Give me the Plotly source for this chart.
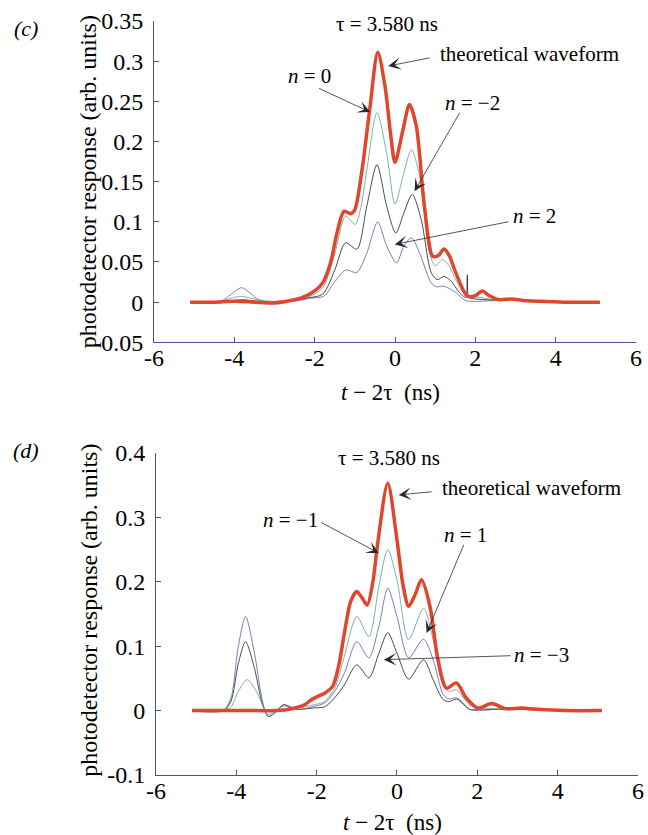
import plotly.graph_objects as go

# ---------------- data: panel (c) ----------------
xc_theory = [-5.1, -4.5, -4.0, -3.5, -3.0, -2.6, -2.3, -2.0, -1.8, -1.6, -1.45, -1.27, -1.1, -1.0, -0.82, -0.62,
             -0.43, -0.25, -0.1, 0.0, 0.2, 0.36, 0.53, 0.73, 0.94, 1.08, 1.22, 1.35, 1.51, 1.8, 2.0, 2.17, 2.35,
             2.6, 2.9, 3.2, 3.6, 4.2, 5.1]
yc_theory = [0, 0, 0.001, 0.0, -0.001, 0.002, 0.006, 0.014, 0.024, 0.05, 0.085, 0.113, 0.110, 0.115, 0.165, 0.244,
             0.311, 0.269, 0.205, 0.174, 0.215, 0.246, 0.219, 0.12, 0.057, 0.058, 0.066, 0.058, 0.037, 0.0075, 0.008,
             0.014, 0.008, 0.003, 0.004, 0.002, 0.001, 0.0, 0.0]

xc_n0 = [-5.1, -4.5, -4.2, -4.0, -3.8, -3.6, -3.3, -3.0, -2.5, -2.2, -2.0, -1.77, -1.5, -1.23, -0.99, -0.85, -0.7,
         -0.45, -0.21, 0.0, 0.2, 0.41, 0.61, 0.86, 1.0, 1.18, 1.35, 1.51, 1.8, 2.1, 2.5, 3.0, 3.5, 4.2, 5.1]
yc_n0 = [0.0, 0.0, 0.003, 0.006, 0.007, 0.005, 0.002, 0.001, 0.002, 0.006, 0.01, 0.02, 0.06, 0.107, 0.097, 0.118,
         0.165, 0.236, 0.186, 0.122, 0.157, 0.19, 0.157, 0.0615, 0.045, 0.053, 0.045, 0.028, 0.0075, 0.006, 0.003,
         0.004, 0.001, 0.0, 0.0]

xc_nm2 = [-5.1, -4.5, -4.2, -3.8, -3.4, -3.0, -2.5, -2.2, -1.8, -1.5, -1.23, -0.95, -0.7, -0.45, -0.21, 0.02, 0.22,
          0.43, 0.65, 0.9, 1.05, 1.22, 1.4, 1.6, 1.76, 1.8, 1.84, 2.0, 2.3, 2.7, 3.0, 3.5, 4.2, 5.1]
yc_nm2 = [0, 0, 0.001, 0.003, 0.001, 0.0, 0.002, 0.005, 0.01, 0.04, 0.074, 0.066, 0.12, 0.171, 0.12, 0.086, 0.111,
          0.134, 0.103, 0.037, 0.028, 0.032, 0.026, 0.012, 0.006, 0.034, 0.006, 0.004, 0.003, 0.003, 0.004, 0.001,
          0.0, 0.0]

xc_n2 = [-5.1, -4.6, -4.3, -4.1, -3.82, -3.6, -3.4, -3.1, -2.8, -2.4, -2.09, -1.77, -1.52, -1.23, -0.95, -0.7, -0.43,
         -0.21, 0.04, 0.22, 0.41, 0.61, 0.9, 1.05, 1.18, 1.35, 1.51, 1.76, 2.0, 2.5, 3.0, 3.5, 4.2, 5.1]
yc_n2 = [0, 0, 0.002, 0.009, 0.018, 0.011, 0.003, 0.0, 0.0, 0.002, 0.005, 0.0075, 0.024, 0.04, 0.037, 0.0615, 0.1,
         0.07, 0.049, 0.07, 0.08, 0.0615, 0.024, 0.019, 0.02, 0.017, 0.012, 0.002, 0.001, 0.002, 0.003, 0.001, 0.0, 0.0]

# ---------------- data: panel (d) ----------------
xd_theory = [-5.1, -4.5, -4.0, -3.5, -3.0, -2.62, -2.3, -2.13, -1.97, -1.8, -1.6, -1.45, -1.31, -1.15, -1.0, -0.87,
             -0.74, -0.6, -0.49, -0.23, 0.0, 0.15, 0.29, 0.45, 0.61, 0.82, 1.02, 1.23, 1.48, 1.72, 2.01, 2.36, 2.7,
             3.1, 3.5, 4.2, 5.1]
yd_theory = [0, 0, 0, 0, 0, 0.003, 0.009, 0.017, 0.022, 0.027, 0.038, 0.07, 0.12, 0.17, 0.185, 0.175, 0.164, 0.2,
             0.255, 0.353, 0.265, 0.195, 0.162, 0.18, 0.203, 0.162, 0.079, 0.035, 0.043, 0.02, 0.004, 0.011, 0.003,
             0.004, 0.002, 0.0, 0.0]

xd_nm1 = [-5.1, -4.5, -4.3, -4.13, -3.95, -3.73, -3.5, -3.33, -3.22, -3.0, -2.83, -2.6, -2.3, -2.0, -1.8, -1.55,
          -1.31, -1.0, -0.7, -0.45, -0.23, 0.0, 0.29, 0.66, 0.9, 1.15, 1.3, 1.48, 1.65, 1.8, 2.1, 2.5, 3.0, 3.5, 4.2, 5.1]
yd_nm1 = [0, 0, 0.0, 0.006, 0.03, 0.048, 0.03, 0.006, -0.006, 0.0, 0.007, 0.004, 0.006, 0.01, 0.014, 0.035, 0.084,
          0.146, 0.115, 0.193, 0.25, 0.203, 0.11, 0.159, 0.11, 0.038, 0.03, 0.0325, 0.02, 0.009, 0.004, 0.003, 0.003,
          0.001, 0.0, 0.0]

xd_n1 = [-5.1, -4.5, -4.3, -4.13, -3.95, -3.77, -3.55, -3.35, -3.21, -3.0, -2.83, -2.46, -2.1, -1.8, -1.55, -1.31,
         -1.0, -0.7, -0.45, -0.23, 0.0, 0.29, 0.66, 0.9, 1.15, 1.3, 1.48, 1.65, 1.8, 2.1, 2.5, 3.0, 3.5, 4.2, 5.1]
yd_n1 = [0, -0.001, 0.002, 0.02, 0.1, 0.146, 0.09, 0.015, -0.009, -0.002, 0.009, 0.002, 0.006, 0.012, 0.03, 0.058,
         0.107, 0.082, 0.131, 0.19, 0.146, 0.082, 0.111, 0.079, 0.025, 0.018, 0.02, 0.012, 0.002, 0.001, 0.002, 0.002,
         0.001, 0.0, 0.0]

xd_nm3 = [-5.1, -4.5, -4.3, -4.13, -3.95, -3.77, -3.55, -3.35, -3.2, -3.0, -2.83, -2.5, -2.1, -1.8, -1.55, -1.31,
          -1.0, -0.7, -0.45, -0.23, 0.0, 0.29, 0.66, 0.9, 1.15, 1.3, 1.48, 1.65, 1.8, 2.1, 2.5, 3.0, 3.5, 4.2, 5.1]
yd_nm3 = [-0.001, -0.002, 0.0, 0.015, 0.073, 0.107, 0.066, 0.01, -0.009, -0.001, 0.009, 0.002, 0.004, 0.006, 0.02,
          0.04, 0.071, 0.051, 0.089, 0.121, 0.089, 0.049, 0.079, 0.048, 0.017, 0.014, 0.018, 0.01, 0.002, 0.001,
          0.002, 0.002, 0.001, 0.0, 0.0]

# ---------------- ticks ----------------
x_tickvals = [-6, -4, -2, 0, 2, 4, 6]
x_ticktext = ["-6", "-4", "-2", "0", "2", "4", "6"]
yc_tickvals = [-0.05, 0, 0.05, 0.1, 0.15, 0.2, 0.25, 0.3, 0.35]
yc_ticktext = ["-0.05", "0", "0.05", "0.1", "0.15", "0.2", "0.25", "0.3", "0.35"]
yd_tickvals = [-0.1, 0, 0.1, 0.2, 0.3, 0.4]
yd_ticktext = ["-0.1", "0", "0.1", "0.2", "0.3", "0.4"]

# ---------------- style ----------------
W, H = 648, 835
ML, MR, MT, MB = 154, 4, 21, 60
FONT = "Liberation Serif"
RED = "#e0462b"
TEAL = "#5e9c8c"
BLACK = "#1e1e1e"
BLUE = "#5a5aae"
AXC = "#4e4ea0"


def px(X):
    return (X - ML) / (W - ML - MR)


def py(Y):
    return (H - MB - Y) / (H - MT - MB)


fig = go.Figure()


def add(x, y, color, width, xa, ya):
    fig.add_trace(go.Scatter(x=x, y=y, mode="lines", line=dict(color=color, width=width, shape="spline",
                                                                    smoothing=0.8),
                             xaxis=xa, yaxis=ya, showlegend=False, hoverinfo="skip"))


add(xc_n2, yc_n2, BLUE, 0.8, "x", "y")
add(xc_nm2, yc_nm2, BLACK, 0.8, "x", "y")
add(xc_n0, yc_n0, TEAL, 0.8, "x", "y")
add(xc_theory, yc_theory, RED, 3.5, "x", "y")

add(xd_nm3, yd_nm3, BLACK, 0.8, "x2", "y2")
add(xd_n1, yd_n1, BLUE, 0.8, "x2", "y2")
add(xd_nm1, yd_nm1, TEAL, 0.8, "x2", "y2")
add(xd_theory, yd_theory, RED, 3.5, "x2", "y2")

axis_common = dict(showline=True, linecolor=AXC, linewidth=1, ticks="inside", ticklen=5, tickcolor=AXC,
                   showgrid=False, zeroline=False, mirror=False,
                   tickfont=dict(family=FONT, size=24, color="black"))
xstyle = dict(axis_common, ticklabelstandoff=-6)
ystyle = dict(axis_common, ticklabelstandoff=5)

fig.update_layout(
    width=W, height=H,
    margin=dict(l=ML, r=MR, t=MT, b=MB),
    paper_bgcolor="white", plot_bgcolor="white",
    font=dict(family=FONT),
    xaxis=dict(domain=[0, px(642)], range=[-6, 6], tickvals=x_tickvals, ticktext=x_ticktext, anchor="y",
               **xstyle),
    yaxis=dict(domain=[py(342.3), 1], range=[-0.05, 0.35], tickvals=yc_tickvals, ticktext=yc_ticktext,
               anchor="x", **ystyle),
    xaxis2=dict(domain=[px(156), 1], range=[-6, 6], tickvals=x_tickvals, ticktext=x_ticktext, anchor="y2",
                **xstyle),
    yaxis2=dict(domain=[0, py(453)], range=[-0.1, 0.4], tickvals=yd_tickvals, ticktext=yd_ticktext,
                anchor="x2", **ystyle),
)

ann = []


def text(x, y, s, xref, yref, size=21, angle=0):
    ann.append(dict(x=x, y=y, xref=xref, yref=yref, text=s, showarrow=False, textangle=angle,
                    font=dict(family=FONT, size=size, color="black"), xanchor="center", yanchor="middle"))


def arrow(x, y, ax, ay, xref, yref):
    ann.append(dict(x=x, y=y, ax=ax, ay=ay, xref=xref, yref=yref, axref=xref, ayref=yref, text="",
                    showarrow=True, arrowhead=3, arrowsize=2.6, arrowwidth=0.8, arrowcolor="#2a2a2a"))


# panel (c)
text(-0.21, 0.3458, "τ = 3.580 ns", "x", "y")
text(3.356, 0.3084, "theoretical waveform", "x", "y")
arrow(-0.167, 0.294, 0.897, 0.3044, "x", "y")
text(-2.14, 0.2817, "<i>n</i> = 0", "x", "y")
arrow(-0.62, 0.2366, -1.93, 0.267, "x", "y")
text(1.918, 0.2474, "<i>n</i> = −2", "x", "y")
arrow(0.487, 0.1382, 1.635, 0.2379, "x", "y")
text(3.479, 0.1073, "<i>n</i> = 2", "x", "y")
arrow(-0.005, 0.0719, 2.865, 0.1005, "x", "y")

# panel (d)
text(-0.197, 0.392, "τ = 3.580 ns", "x2", "y2")
text(3.356, 0.3457, "theoretical waveform", "x2", "y2")
arrow(0.042, 0.3349, 0.902, 0.34, "x2", "y2")
text(-2.643, 0.2961, "<i>n</i> = −1", "x2", "y2")
arrow(-0.45, 0.2445, -1.925, 0.2935, "x2", "y2")
text(1.697, 0.2729, "<i>n</i> = 1", "x2", "y2")
arrow(0.738, 0.1205, 1.679, 0.26, "x2", "y2")
text(3.602, 0.0868, "<i>n</i> = −3", "x2", "y2")
arrow(-0.327, 0.0791, 2.869, 0.0853, "x2", "y2")

# panel labels and axis titles
text(px(24), py(28), "<i>(c)</i>", "paper", "paper", size=22)
text(px(24), py(450), "<i>(d)</i>", "paper", "paper", size=22)
text(px(393), py(392), "<i>t</i> − 2τ\u00a0\u00a0(ns)", "paper", "paper", size=23)
text(px(395), py(822), "<i>t</i> − 2τ\u00a0\u00a0(ns)", "paper", "paper", size=23)
text(px(87), py(181.5), "photodetector response (arb. units)", "paper", "paper", size=24, angle=-90)
text(px(88), py(610), "photodetector response (arb. units)", "paper", "paper", size=24, angle=-90)

fig.update_layout(annotations=ann)
fig.write_html("out.html", config={"displayModeBar": False},
               post_script="document.body.style.margin='0';")
